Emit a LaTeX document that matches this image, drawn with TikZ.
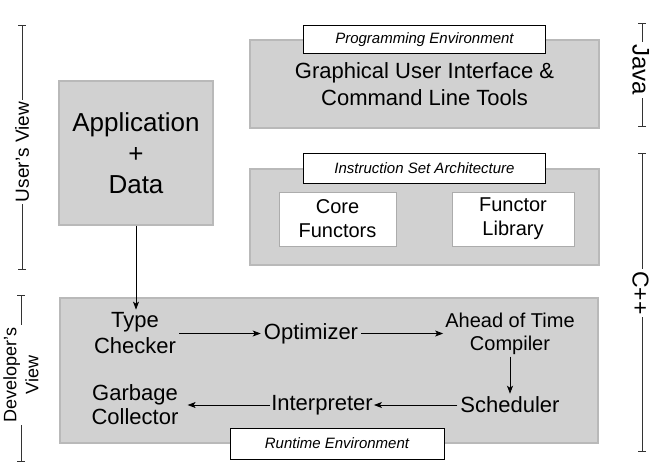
\documentclass[tikz,border=0pt]{standalone}
\usepackage{fontspec}
\setmainfont{Liberation Sans}
\usetikzlibrary{positioning,arrows.meta}

\newcommand{\fsz}[2]{\fontsize{#1}{#2}\selectfont}

\begin{document}
\begin{tikzpicture}[
  x=1pt,y=-1pt,
  layer/.style={rectangle,draw=gray!55,line width=1.2pt,fill=gray!36,
                inner sep=0pt,align=center},
  tag/.style={rectangle,draw=black,line width=0.8pt,fill=white,inner sep=0pt,
              minimum height=28pt,font=\fsz{15}{18}\itshape},
  unit/.style={rectangle,draw=gray!65,line width=0.8pt,fill=white,
               minimum height=54pt,align=center,font=\fsz{20}{24}},
  stage/.style={align=center,inner sep=3pt,font=\fsz{22}{26}},
  side/.style={inner sep=2pt,align=center},
  lang/.style={rotate=-90,inner xsep=2pt,inner ysep=0pt,text depth=0pt},
  arr/.style={-{Stealth[length=8pt,width=6pt,inset=2pt]},line width=0.8pt},
  span/.style={{Bar[width=8pt]}-,line width=0.8pt,black!80},
]
\useasboundingbox (0,0) rectangle (650,464);

% user level
\node[layer,minimum width=154pt,minimum height=144pt,font=\fsz{26}{31}] (app)
   at (136,153) {Application\\+\\Data};

\node[layer,minimum width=349pt,minimum height=88pt,font=\fsz{22}{27}] (gui)
   at (424.5,84) {Graphical User Interface \&\\Command Line Tools};
\node[tag,minimum width=242pt] (guitag) at (gui.north) {Programming Environment};

\node[layer,minimum width=349pt,minimum height=96pt] (isa) at (424.5,217) {};
\node[tag,minimum width=242pt,minimum height=30pt] (isatag) at (isa.north)
   {Instruction Set Architecture};
\node[unit,minimum width=117pt] (core) at (337.5,219) {Core\\Functors};
\node[unit,minimum width=122pt] (flib) at (513,219) {Functor\\Library};

% runtime
\node[layer,minimum width=538pt,minimum height=145pt] (rt) at (329,370.5) {};
\node[tag,minimum width=214pt,minimum height=31pt,xshift=8pt] (rttag) at (rt.south)
   {Runtime Environment};

\node[stage] (tc) at (135,333.5) {Type\\Checker};
\node[stage] (opt) at (311,333.5) {Optimizer};
\node[stage,inner sep=2pt,font=\fsz{20}{23}] (aot) at (510,333.5) {Ahead of Time\\Compiler};
\node[stage] (sched) at (510,405) {Scheduler};
\node[stage,inner sep=1pt] (interp) at (322,405) {Interpreter};
\node[stage,inner xsep=9pt,font=\fsz{22}{24}] (gc) at (135,405) {Garbage\\Collector};

\draw[arr] (app) -- (app |- tc.north);
\draw[arr] (tc) -- (opt);
\draw[arr] (opt) -- (aot);
\draw[arr] (aot) -- (sched);
\draw[arr] (sched) -- (interp);
\draw[arr] (interp) -- (gc);

% side brackets
\node[side,rotate=90,font=\fsz{19}{22}] (users) at (22,152) {User's View};
\coordinate (userstop) at (22,25);
\coordinate (usersbot) at (22,270);
\draw[span] (userstop) -- (users.east);
\draw[span] (usersbot) -- (users.west);

\node[side,rotate=90,font=\fsz{18}{22}] (devs) at (21,375) {Developer's\\View};
\coordinate (devstop) at (21,295);
\coordinate (devsbot) at (21,462);
\draw[span] (devstop) -- (devs.east);
\draw[span] (devsbot) -- (devs.west);

\node[lang,font=\fsz{24}{28},text height=17pt] (java) at (641,70) {Java};
\coordinate (javatop) at (642,23);
\coordinate (javabot) at (642,127);
\draw[span] (javatop) -- (javatop |- java.west);
\draw[span] (javabot) -- (javabot |- java.east);

\node[lang,font=\fsz{23}{28},text height=17pt] (cpp) at (641,293) {C++};
\coordinate (cpptop) at (642,153);
\coordinate (cppbot) at (642,452);
\draw[span] (cpptop) -- (cpptop |- cpp.west);
\draw[span] (cppbot) -- (cppbot |- cpp.east);
\end{tikzpicture}
\end{document}
